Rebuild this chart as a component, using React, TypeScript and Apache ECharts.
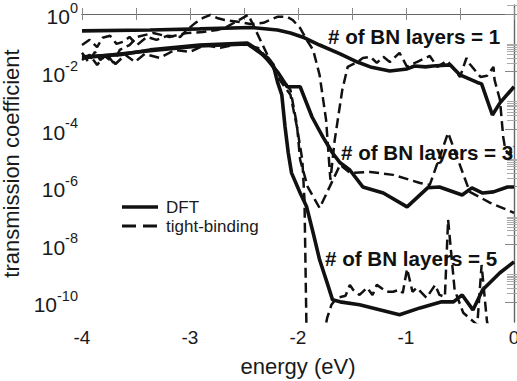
import React, { useEffect, useRef } from "react";
import * as echarts from "echarts";

const FONT = '"Liberation Sans", Arial, Helvetica, sans-serif';

// axis ranges: energy (eV) and log10(transmission coefficient)
const X_MIN = -4;
const X_MAX = 0;
const Y_MIN = -10.7;
const Y_MAX = 0.31;

const majorExponents = [-10, -8, -6, -4, -2, 0];
const minorMantissas = [2, 3, 4, 5, 6, 7, 8, 9];

const legendNames = ["DFT", "tight-binding"];
const annotations = ["# of BN layers = 1", "# of BN layers = 3", "# of BN layers = 5"];

// [energy (eV), log10(transmission coefficient)]
const dft1: [number, number][] = [
  [-4.0, -0.59], [-3.37, -0.56], [-2.91, -0.52], [-2.44, -0.47], [-2.19, -0.56],
  [-2.07, -0.66], [-1.94, -0.83], [-1.8, -1.08], [-1.61, -1.39], [-1.45, -1.67],
  [-1.33, -1.84], [-1.15, -1.98], [-0.99, -1.91], [-0.92, -1.81], [-0.82, -1.84],
  [-0.75, -1.81], [-0.59, -1.77], [-0.5, -2.12], [-0.34, -2.38], [-0.3, -2.43],
  [-0.2, -3.51], [-0.13, -3.09], [0.0, -2.53],
];

const dft3: [number, number][] = [
  [-4.0, -1.49], [-3.65, -1.42], [-3.37, -1.25], [-2.91, -1.08], [-2.47, -1.01],
  [-2.37, -1.25], [-2.28, -1.6], [-2.19, -2.01], [-2.1, -2.53], [-1.98, -2.53],
  [-1.87, -3.58], [-1.77, -4.27], [-1.68, -4.83], [-1.61, -5.17], [-1.52, -5.42],
  [-1.4, -6.01], [-1.21, -6.22], [-0.99, -6.7], [-0.8, -6.04], [-0.69, -6.01],
  [-0.48, -6.29], [-0.39, -6.04], [-0.29, -6.22], [-0.19, -6.18], [-0.06, -6.01],
  [0.0, -6.01],
];

const dft5: [number, number][] = [
  [-4.0, -1.53], [-3.37, -1.28], [-2.91, -1.11], [-2.47, -1.04], [-2.28, -1.53],
  [-2.23, -1.77], [-2.19, -2.36], [-2.15, -2.81], [-2.12, -3.92], [-2.09, -4.83],
  [-2.06, -5.52], [-1.98, -6.22], [-1.92, -6.7], [-1.86, -7.6], [-1.8, -8.54],
  [-1.73, -9.34], [-1.68, -9.93], [-1.61, -10.0], [-1.43, -10.1], [-1.06, -10.45],
  [-0.87, -10.21], [-0.67, -10.0], [-0.56, -10.0], [-0.48, -9.76], [-0.38, -10.28],
  [-0.29, -9.58], [-0.13, -8.99], [0.0, -8.61],
];

const tb1: [number, number][] = [
  [-4.0, -1.08], [-3.93, -0.9], [-3.86, -1.15], [-3.81, -0.83], [-3.74, -0.76],
  [-3.68, -1.04], [-3.62, -0.97], [-3.56, -0.8], [-3.49, -1.08], [-3.4, -0.8],
  [-3.31, -0.9], [-3.21, -0.76], [-3.09, -0.8], [-3.03, -0.56], [-2.95, -0.31],
  [-2.88, -0.14], [-2.81, -0.03], [-2.75, -0.14], [-2.68, -0.21], [-2.54, -0.28],
  [-2.44, -0.35], [-2.32, -0.31], [-2.19, -0.1], [-2.1, -0.1], [-2.05, -0.21],
  [-1.98, -0.49], [-1.92, -0.9], [-1.86, -1.25], [-1.8, -2.12], [-1.74, -3.68],
  [-1.7, -5.76], [-1.66, -4.38], [-1.59, -2.64], [-1.54, -1.84], [-1.45, -1.67],
  [-1.4, -1.53], [-1.33, -1.49], [-1.27, -1.7], [-1.21, -1.49], [-1.15, -1.67],
  [-1.06, -1.35], [-0.99, -1.84], [-0.9, -1.67], [-0.78, -1.46], [-0.71, -1.84],
  [-0.62, -1.63], [-0.57, -1.84], [-0.5, -2.19], [-0.44, -1.53], [-0.41, -1.74],
  [-0.31, -2.19], [-0.25, -2.15], [-0.19, -1.84], [-0.18, -2.29], [-0.13, -2.99],
  [-0.1, -4.27], [-0.08, -4.72], [-0.04, -4.9], [0.0, -4.6],
];

const tb3: [number, number][] = [
  [-4.0, -1.35], [-3.94, -1.67], [-3.88, -1.32], [-3.83, -1.6], [-3.77, -1.39],
  [-3.71, -1.7], [-3.65, -1.25], [-3.56, -1.08], [-3.49, -0.8], [-3.34, -0.66],
  [-3.19, -0.8], [-3.03, -0.66], [-2.88, -0.63], [-2.75, -0.56], [-2.66, -0.45],
  [-2.46, -0.03], [-2.23, -1.84], [-2.07, -2.64], [-2.01, -3.85], [-1.98, -5.07],
  [-1.91, -6.01], [-1.8, -6.74], [-1.61, -5.24], [-1.52, -5.52], [-1.33, -5.49],
  [-1.12, -5.59], [-0.87, -5.87], [-0.78, -5.94], [-0.61, -4.13], [-0.41, -6.18],
  [-0.22, -6.56], [0.0, -6.91],
];

const tb5: [number, number][] = [
  [-4.0, -1.6], [-3.93, -1.42], [-3.86, -1.77], [-3.79, -1.46], [-3.69, -1.74],
  [-3.6, -1.42], [-3.51, -1.67], [-3.42, -1.39], [-3.28, -1.53], [-3.14, -1.25],
  [-3.0, -1.32], [-2.86, -1.08], [-2.72, -1.18], [-2.54, -1.04], [-2.37, -1.18],
  [-2.26, -1.67], [-2.17, -2.29], [-2.07, -2.81], [-2.01, -3.92], [-1.96, -5.07],
  [-1.94, -6.46], [-1.92, -11.3], [-1.77, -11.3], [-1.73, -10.56], [-1.69, -10.1],
  [-1.64, -9.86], [-1.56, -9.79], [-1.52, -9.41], [-1.49, -9.58], [-1.43, -9.76],
  [-1.36, -9.51], [-1.31, -9.76], [-1.27, -9.41], [-1.18, -9.65], [-1.12, -9.65],
  [-1.06, -9.58], [-1.03, -9.69], [-0.99, -8.85], [-0.94, -9.65], [-0.9, -9.51],
  [-0.81, -9.86], [-0.73, -9.41], [-0.69, -9.76], [-0.64, -9.83], [-0.61, -7.15],
  [-0.55, -9.58], [-0.47, -10.38], [-0.34, -10.8], [-0.3, -8.72], [-0.25, -10.69],
  [-0.2, -11.3], [0.0, -11.3],
];

const AXIS_COLOR = "#666";
const TICK_COLOR = "#888";
const MINOR_COLOR = "#aaa";
const TEXT_COLOR = "#1a1a1a";
const LINE_COLOR = "#111";
const SOLID_WIDTH = 3.6;
const DASH_WIDTH = 2.5;
const DASH: [number, number] = [10, 5];

function buildOption() {
  const majorTicks = majorExponents.filter((e) => e >= Y_MIN && e <= Y_MAX);
  const minorTicks: number[] = [];
  majorExponents.forEach((e) => {
    minorMantissas.forEach((m) => {
      const v = e + Math.log10(m);
      if (v > Y_MIN && v < Y_MAX) minorTicks.push(v);
    });
  });

  const yBase = {
    type: "value" as const,
    min: Y_MIN,
    max: Y_MAX,
    splitLine: { show: false },
  };

  const solid = (name: string, data: [number, number][]) => ({
    type: "line",
    name,
    data,
    symbol: "none",
    showSymbol: false,
    lineStyle: { color: LINE_COLOR, width: SOLID_WIDTH, type: "solid" },
    itemStyle: { color: LINE_COLOR },
    z: 3,
  });
  const dashed = (name: string, data: [number, number][]) => ({
    type: "line",
    name,
    data,
    symbol: "none",
    showSymbol: false,
    lineStyle: { color: LINE_COLOR, width: DASH_WIDTH, type: DASH },
    itemStyle: { color: LINE_COLOR },
    z: 2,
  });

  const annoStyle = (text: string) => ({
    text,
    font: `bold 20.6px ${FONT}`,
    fill: "#111",
    verticalAlign: "middle",
    align: "left",
  });

  const legendText = (text: string) => ({
    text,
    font: `17px ${FONT}`,
    fill: TEXT_COLOR,
    verticalAlign: "middle",
    align: "left",
  });

  return {
    animation: false,
    backgroundColor: "#fff",
    grid: { left: 82, right: 3, top: 5, bottom: 59, containLabel: false, outerBoundsMode: "none" },
    xAxis: [
      {
        type: "value",
        min: X_MIN,
        max: X_MAX,
        interval: 0.5,
        position: "bottom",
        axisLine: { show: true, lineStyle: { color: AXIS_COLOR, width: 1.2 } },
        axisTick: { show: true, inside: true, length: 6, lineStyle: { color: TICK_COLOR } },
        axisLabel: {
          fontSize: 19,
          color: TEXT_COLOR,
          fontFamily: FONT,
          margin: 6,
          formatter: (v: number) => (Number.isInteger(v) ? String(v) : ""),
        },
        splitLine: { show: false },
        name: "energy (eV)",
        nameLocation: "middle",
        nameGap: 33,
        nameTextStyle: { fontSize: 22, color: TEXT_COLOR, fontFamily: FONT },
      },
      {
        type: "value",
        min: X_MIN,
        max: X_MAX,
        interval: 0.5,
        position: "top",
        axisLine: { show: true, lineStyle: { color: AXIS_COLOR, width: 1.2 } },
        axisTick: { show: true, inside: true, length: 6, lineStyle: { color: TICK_COLOR } },
        axisLabel: { show: false },
        splitLine: { show: false },
      },
    ],
    yAxis: [
      {
        ...yBase,
        position: "left",
        axisLine: { show: true, lineStyle: { color: AXIS_COLOR, width: 1.2 } },
        axisTick: {
          show: true,
          inside: true,
          length: 9,
          customValues: majorTicks,
          lineStyle: { color: TICK_COLOR },
        },
        axisLabel: {
          show: true,
          customValues: majorTicks,
          margin: 4,
          color: TEXT_COLOR,
          fontFamily: FONT,
          formatter: (v: number) => `{b|10}{s|${Math.round(v)}}`,
          rich: {
            b: { fontSize: 21, fontFamily: FONT, color: TEXT_COLOR, lineHeight: 27, verticalAlign: "bottom" },
            s: { fontSize: 14.5, fontFamily: FONT, color: TEXT_COLOR, lineHeight: 27, verticalAlign: "top" },
          },
        },
        name: "transmission coefficient",
        nameLocation: "middle",
        nameGap: 50,
        nameTextStyle: { fontSize: 22, color: TEXT_COLOR, fontFamily: FONT },
      },
      {
        ...yBase,
        position: "left",
        axisLine: { show: false },
        axisTick: { show: true, inside: true, length: 7, customValues: minorTicks, lineStyle: { color: MINOR_COLOR } },
        axisLabel: { show: false },
      },
      {
        ...yBase,
        position: "right",
        axisLine: { show: true, lineStyle: { color: AXIS_COLOR, width: 1.2 } },
        axisTick: { show: true, inside: true, length: 9, customValues: majorTicks, lineStyle: { color: TICK_COLOR } },
        axisLabel: { show: false },
      },
      {
        ...yBase,
        position: "right",
        axisLine: { show: false },
        axisTick: { show: true, inside: true, length: 7, customValues: minorTicks, lineStyle: { color: MINOR_COLOR } },
        axisLabel: { show: false },
      },
    ],
    graphic: [
      { type: "text", x: 328, y: 36, style: annoStyle(annotations[0]), z: 10 },
      { type: "text", x: 341, y: 152, style: annoStyle(annotations[1]), z: 10 },
      { type: "text", x: 325, y: 258, style: annoStyle(annotations[2]), z: 10 },
      // legend
      {
        type: "line",
        shape: { x1: 122, y1: 207, x2: 158, y2: 207 },
        style: { stroke: LINE_COLOR, lineWidth: SOLID_WIDTH },
        z: 10,
      },
      {
        type: "line",
        shape: { x1: 122, y1: 226, x2: 158, y2: 226 },
        style: { stroke: LINE_COLOR, lineWidth: DASH_WIDTH + 0.4, lineDash: [14, 7] },
        z: 10,
      },
      { type: "text", x: 166, y: 207, style: legendText(legendNames[0]), z: 10 },
      { type: "text", x: 166, y: 226, style: legendText(legendNames[1]), z: 10 },
    ],
    series: [
      solid(legendNames[0], dft1),
      solid(legendNames[0], dft3),
      solid(legendNames[0], dft5),
      dashed(legendNames[1], tb1),
      dashed(legendNames[1], tb3),
      dashed(legendNames[1], tb5),
    ],
  };
}

export default function App() {
  const ref = useRef<HTMLDivElement>(null);
  useEffect(() => {
    document.body.style.margin = "0";
    if (!ref.current) return;
    const chart = echarts.init(ref.current, undefined, { renderer: "svg" });
    chart.setOption(buildOption() as any);
    return () => chart.dispose();
  }, []);
  return <div ref={ref} style={{ width: 517, height: 381 }} />;
}
